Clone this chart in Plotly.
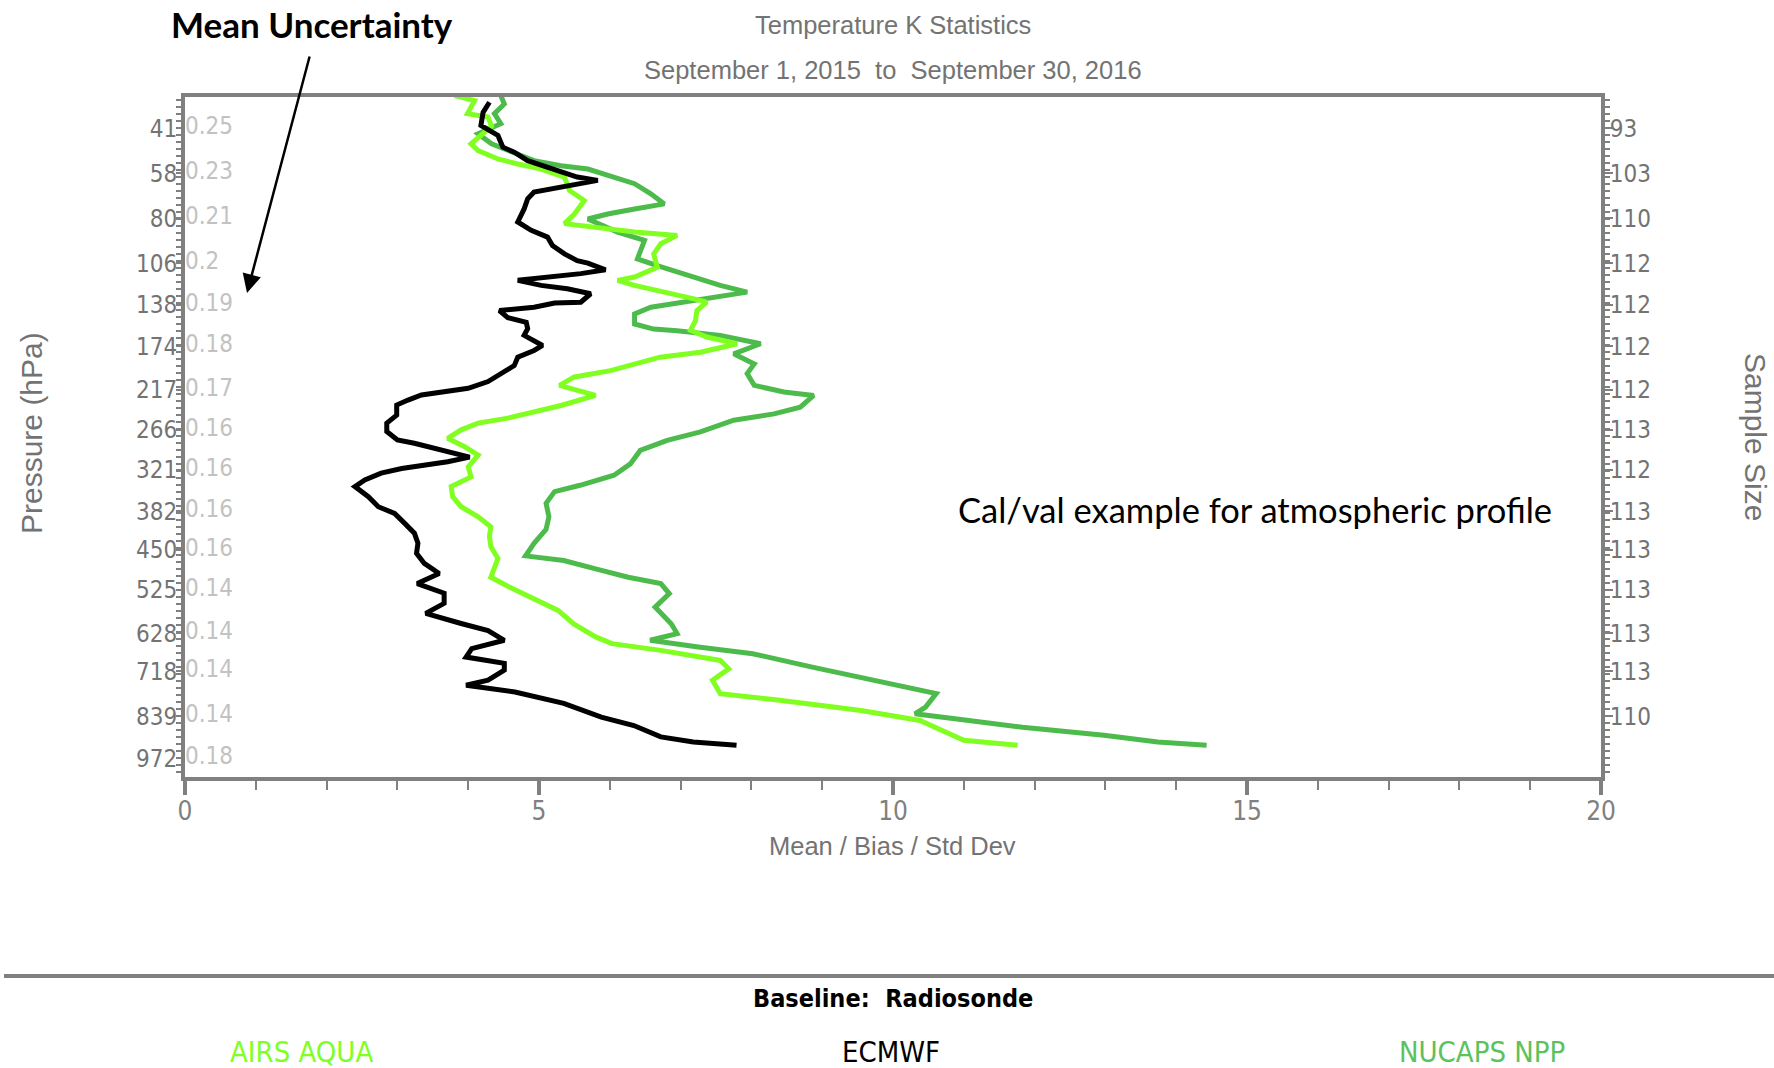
import plotly.graph_objects as go

# ---------------------------------------------------------------------------
# Data
# Vertical coordinate: position on the pressure-level grid (0 = 41 hPa at top,
# 15 = 972 hPa at bottom); the labelled levels sit at LEVEL_POS.
# ---------------------------------------------------------------------------
PRESSURE_LABELS = ["41", "58", "80", "106", "138", "174", "217", "266",
                   "321", "382", "450", "525", "628", "718", "839", "972"]
MEAN_UNCERTAINTY = ["0.25", "0.23", "0.21", "0.2", "0.19", "0.18", "0.17", "0.16",
                    "0.16", "0.16", "0.16", "0.14", "0.14", "0.14", "0.14", "0.18"]
SAMPLE_SIZE = ["93", "103", "110", "112", "112", "112", "112", "113",
               "112", "113", "113", "113", "113", "113", "110"]
LEVEL_POS = [0.0, 1.07, 2.14, 3.21, 4.20, 5.19, 6.23, 7.18,
             8.13, 9.12, 10.04, 10.99, 12.02, 12.93, 14.0, 15.0]

X_TICKS = [0, 5, 10, 15, 20]

ECMWF_X = [4.30, 4.21, 4.18, 4.42, 4.49, 4.65, 4.84, 5.26, 5.54, 5.83, 5.31, 4.93,
           4.84, 4.79, 4.70, 4.89, 5.12, 5.19, 5.36, 5.54, 5.69, 5.94, 5.59, 5.12,
           4.70, 5.03, 5.40, 5.73, 5.59, 5.22, 4.93, 4.44, 4.56, 4.82, 4.84, 4.79,
           5.05, 4.93, 4.70, 4.65, 4.51, 4.28, 4.00, 3.62, 3.34, 3.15, 2.99, 2.99,
           2.85, 2.85, 3.00, 3.24, 3.52, 3.81, 4.02, 3.71, 3.38, 3.06, 2.77, 2.54,
           2.40, 2.59, 2.73, 2.96, 3.10, 3.24, 3.29, 3.27, 3.38, 3.59, 3.28, 3.66,
           3.66, 3.40, 3.90, 4.28, 4.51, 4.05, 3.97, 4.51, 4.51, 4.28, 3.97, 4.66,
           5.35, 5.88, 6.34, 6.72, 7.18, 7.79]
ECMWF_LEV = [-0.62, -0.38, -0.07, 0.17, 0.45, 0.57, 0.77, 1.00, 1.16, 1.24, 1.39, 1.52,
             1.68, 1.92, 2.23, 2.43, 2.59, 2.79, 2.99, 3.15, 3.21, 3.37, 3.46, 3.53,
             3.62, 3.74, 3.82, 3.94, 4.14, 4.16, 4.26, 4.34, 4.51, 4.62, 4.77, 4.93,
             5.17, 5.29, 5.45, 5.65, 5.80, 6.03, 6.19, 6.27, 6.35, 6.47, 6.59, 6.83,
             7.02, 7.22, 7.42, 7.50, 7.62, 7.74, 7.83, 7.94, 8.02, 8.10, 8.21, 8.37,
             8.53, 8.77, 9.01, 9.17, 9.40, 9.64, 9.88, 10.12, 10.36, 10.60, 10.84, 11.07,
             11.31, 11.55, 11.79, 11.96, 12.19, 12.39, 12.59, 12.74, 12.90, 13.14, 13.26, 13.42,
             13.69, 14.02, 14.22, 14.49, 14.61, 14.69]

AIRS_X = [3.81, 4.09, 3.99, 4.28, 4.33, 4.04, 4.14, 4.42, 4.70, 5.03, 5.36, 5.43,
          5.64, 5.50, 5.36, 5.78, 6.35, 6.95, 6.72, 6.62, 6.67, 6.35, 6.11, 6.35,
          6.81, 7.19, 7.37, 7.23, 7.21, 7.14, 7.37, 7.80, 7.28, 6.71, 6.01, 5.50,
          5.29, 5.80, 5.31, 4.93, 4.56, 4.14, 3.90, 3.71, 3.95, 4.14, 4.00, 4.04,
          3.76, 3.78, 3.90, 4.14, 4.32, 4.30, 4.32, 4.42, 4.37, 4.32, 4.58, 4.89,
          5.27, 5.49, 5.80, 6.03, 6.72, 7.56, 7.68, 7.45, 7.56, 8.40, 9.55, 10.38,
          10.69, 11.00, 11.76]
AIRS_LEV = [-0.78, -0.66, -0.35, -0.27, -0.05, 0.37, 0.53, 0.73, 0.85, 0.97, 1.16, 1.48,
            1.72, 2.04, 2.27, 2.35, 2.47, 2.55, 2.75, 2.99, 3.31, 3.54, 3.62, 3.74,
            3.90, 4.06, 4.14, 4.34, 4.58, 4.81, 4.97, 5.13, 5.33, 5.45, 5.77, 5.92,
            6.12, 6.36, 6.60, 6.75, 6.90, 7.02, 7.18, 7.38, 7.58, 7.78, 8.06, 8.30,
            8.53, 8.77, 9.01, 9.25, 9.49, 9.72, 9.96, 10.24, 10.44, 10.69, 10.92, 11.16,
            11.48, 11.80, 12.11, 12.27, 12.43, 12.67, 12.87, 13.14, 13.46, 13.62, 13.86, 14.10,
            14.33, 14.57, 14.69]

NUCAPS_X = [4.46, 4.51, 4.37, 4.46, 4.14, 4.33, 4.93, 5.31, 5.69, 5.97, 6.35, 6.58,
            6.77, 6.35, 5.97, 5.69, 6.11, 6.49, 6.44, 6.39, 6.67, 6.95, 7.28, 7.56,
            7.94, 7.52, 7.00, 6.58, 6.35, 6.35, 6.62, 6.95, 7.56, 8.13, 7.75, 8.04,
            7.94, 8.04, 8.46, 8.88, 8.69, 8.32, 7.75, 7.28, 6.81, 6.43, 6.29, 6.06,
            5.58, 5.22, 5.10, 5.14, 5.10, 4.93, 4.81, 5.35, 5.80, 6.26, 6.72, 6.84,
            6.64, 6.87, 6.95, 6.57, 7.25, 8.02, 8.86, 9.55, 10.23, 10.61, 10.46, 10.31,
            11.07, 11.83, 12.98, 13.74, 14.43]
NUCAPS_LEV = [-0.78, -0.58, -0.35, -0.11, 0.13, 0.37, 0.77, 0.89, 0.97, 1.12, 1.32, 1.56,
              1.80, 1.92, 2.04, 2.16, 2.47, 2.67, 2.91, 3.11, 3.27, 3.42, 3.62, 3.74,
              3.90, 4.02, 4.14, 4.26, 4.42, 4.66, 4.78, 4.82, 4.93, 5.13, 5.37, 5.61,
              5.84, 6.12, 6.28, 6.36, 6.64, 6.80, 6.95, 7.23, 7.43, 7.67, 7.99, 8.26,
              8.50, 8.65, 8.93, 9.25, 9.55, 9.88, 10.18, 10.29, 10.49, 10.69, 10.84, 11.08,
              11.40, 11.80, 12.03, 12.19, 12.35, 12.51, 12.83, 13.07, 13.30, 13.46, 13.78, 13.94,
              14.10, 14.26, 14.45, 14.61, 14.69]

# ---------------------------------------------------------------------------
# Styling
# ---------------------------------------------------------------------------
W, H = 1774, 1068
PLOT_L, PLOT_R, PLOT_T, PLOT_B = 185, 1601, 97, 777
LEV0_PX, PX_PER_LEV = 128.3, 42.0

AXIS_GREY = "#808080"
LABEL_GREY = "#737373"
UNC_GREY = "#c2c2c2"
AIRS_GREEN = "#80ff20"
NUCAPS_GREEN = "#4cbb4c"
NARROW = "Liberation Sans Narrow, Arial Narrow, DejaVu Sans Condensed, Liberation Sans, sans-serif"
PLAIN = "Liberation Sans, Arial, sans-serif"
CALIBRI_LIKE = "Lato, Open Sans, sans-serif"

x_range = [0, 20]
y_range = [(PLOT_B - LEV0_PX) / PX_PER_LEV, (PLOT_T - LEV0_PX) / PX_PER_LEV]


def pxx(x):
    return (x - PLOT_L) / (PLOT_R - PLOT_L)


def pxy(y):
    return (PLOT_B - y) / (PLOT_B - PLOT_T)


fig = go.Figure()

for xs, ys, color, name in [
    (NUCAPS_X, NUCAPS_LEV, NUCAPS_GREEN, "NUCAPS NPP"),
    (AIRS_X, AIRS_LEV, AIRS_GREEN, "AIRS AQUA"),
    (ECMWF_X, ECMWF_LEV, "#000000", "ECMWF"),
]:
    fig.add_trace(go.Scatter(x=xs, y=ys, mode="lines", name=name,
                             line=dict(color=color, width=5),
                             showlegend=False))

# mean uncertainty column just inside the left axis
fig.add_trace(go.Scatter(x=[0] * len(MEAN_UNCERTAINTY), y=LEVEL_POS, mode="text",
                         text=MEAN_UNCERTAINTY, textposition="middle right",
                         textfont=dict(family=NARROW, size=24, color=UNC_GREY),
                         showlegend=False, cliponaxis=False, hoverinfo="skip"))

# anchor trace for the sample-size axis
fig.add_trace(go.Scatter(x=[None], y=[None], yaxis="y2", showlegend=False,
                         hoverinfo="skip"))

tick_font = dict(family=NARROW, size=24, color=LABEL_GREY)

fig.update_layout(
    width=W, height=H,
    margin=dict(l=PLOT_L, r=W - PLOT_R, t=PLOT_T, b=H - PLOT_B),
    paper_bgcolor="white", plot_bgcolor="white",
    showlegend=False,
    xaxis=dict(
        range=x_range, tickmode="array", tickvals=X_TICKS,
        ticks="outside", ticklen=14, tickwidth=4, tickcolor=AXIS_GREY,
        showline=True, linewidth=4, linecolor=AXIS_GREY, mirror=True,
        showgrid=False, zeroline=False, ticklabelstandoff=-6,
        tickfont=dict(family=NARROW, size=26, color=AXIS_GREY),
        minor=dict(tickmode="linear", tick0=0, dtick=1, ticks="outside",
                   ticklen=9, tickwidth=2, tickcolor=AXIS_GREY, showgrid=False),
    ),
    yaxis=dict(
        range=y_range, tickmode="array", tickvals=LEVEL_POS, ticktext=PRESSURE_LABELS,
        ticks="outside", ticklen=5, tickwidth=2, tickcolor=AXIS_GREY,
        showline=True, linewidth=4, linecolor=AXIS_GREY, mirror=False,
        showgrid=False, zeroline=False, tickfont=tick_font,
        ticklabelstandoff=-6,
        minor=dict(tickmode="linear", tick0=0, dtick=1 / 6, ticks="outside",
                   ticklen=5, tickwidth=2, tickcolor=AXIS_GREY, showgrid=False),
    ),
    yaxis2=dict(
        range=y_range, overlaying="y", side="right",
        tickmode="array", tickvals=LEVEL_POS[:len(SAMPLE_SIZE)], ticktext=SAMPLE_SIZE,
        ticks="outside", ticklen=8, tickwidth=2, tickcolor=AXIS_GREY,
        showline=True, linewidth=4, linecolor=AXIS_GREY,
        showgrid=False, zeroline=False, tickfont=tick_font,
        ticklabelstandoff=-8,
        minor=dict(tickmode="linear", tick0=0, dtick=1 / 6, ticks="outside",
                   ticklen=5, tickwidth=2, tickcolor=AXIS_GREY, showgrid=False),
    ),
)

annotations = [
    dict(text="Temperature K Statistics", x=pxx(893), y=pxy(25),
         font=dict(family=PLAIN, size=25.5, color=LABEL_GREY)),
    dict(text="September 1, 2015&nbsp; to&nbsp; September 30, 2016", x=pxx(893), y=pxy(70),
         font=dict(family=PLAIN, size=25.5, color=LABEL_GREY)),
    dict(text="<b>Mean Uncertainty</b>", x=pxx(312), y=pxy(24),
         font=dict(family=CALIBRI_LIKE, size=35, color="#000000")),
    dict(text="Cal/val example for atmospheric profile", x=pxx(1255), y=pxy(509),
         font=dict(family=CALIBRI_LIKE, size=34.5, color="#000000")),
    dict(text="Mean / Bias / Std Dev", x=pxx(892), y=pxy(846),
         font=dict(family=PLAIN, size=25.5, color=LABEL_GREY)),
    dict(text="Pressure (hPa)", x=pxx(31), y=pxy(433), textangle=-90,
         font=dict(family=PLAIN, size=30, color=LABEL_GREY)),
    dict(text="Sample Size", x=pxx(1756), y=pxy(437), textangle=90,
         font=dict(family=PLAIN, size=30, color=LABEL_GREY)),
    dict(text="<b>Baseline:&nbsp; Radiosonde</b>", x=pxx(893), y=pxy(998),
         font=dict(family=NARROW, size=25, color="#000000")),
    dict(text="AIRS AQUA", x=pxx(301), y=pxy(1052),
         font=dict(family=NARROW, size=29, color=AIRS_GREEN)),
    dict(text="ECMWF", x=pxx(891), y=pxy(1052),
         font=dict(family=NARROW, size=29, color="#000000")),
    dict(text="NUCAPS NPP", x=pxx(1482), y=pxy(1052),
         font=dict(family=NARROW, size=29, color="#5cc25c")),
]
for a in annotations:
    fig.add_annotation(xref="paper", yref="paper", showarrow=False,
                       xanchor="center", yanchor="middle", **a)

# arrow from the label down to the uncertainty column
fig.add_annotation(xref="paper", yref="paper", x=pxx(247), y=pxy(293),
                   ax=310 - 247, ay=55 - 293, axref="pixel", ayref="pixel",
                   text="", showarrow=True, arrowhead=2, arrowsize=1.5,
                   arrowwidth=2.5, arrowcolor="#000000")

# separator above the baseline caption
fig.add_shape(type="line", xref="paper", yref="paper",
              x0=pxx(4), x1=pxx(W), y0=pxy(976), y1=pxy(976),
              line=dict(color=AXIS_GREY, width=4))

fig.write_html("out.html")
